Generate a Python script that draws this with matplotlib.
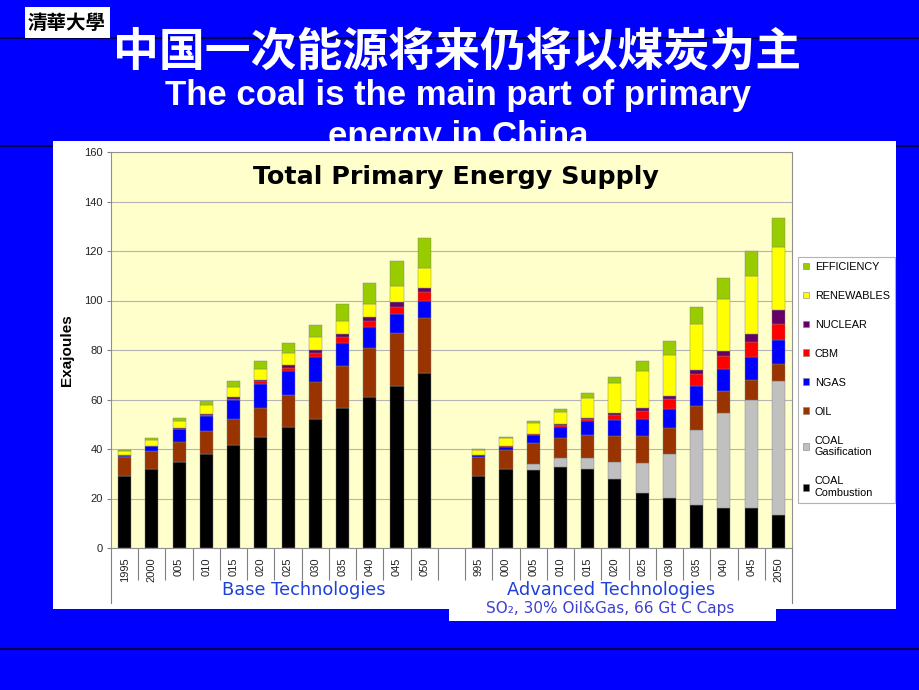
import numpy as np
import matplotlib
matplotlib.use('Agg')
import matplotlib.pyplot as plt
from matplotlib.patches import Rectangle, Patch
from matplotlib.lines import Line2D

# tick labels as they show on the slide (first digit cut off)
base_labels = ['1995', '2000', '005', '010', '015', '020', '025', '030', '035', '040', '045', '050']
adv_labels = ['995', '000', '005', '010', '015', '020', '025', '030', '035', '040', '045', '2050']

# Base Technologies (Exajoules)
coal_comb_base = [29.2, 31.9, 34.9, 38.0, 41.5, 44.9, 48.9, 52.3, 56.6, 61.0, 65.5, 70.7]
coal_gas_base = [0.0, 0.0, 0.0, 0.0, 0.0, 0.0, 0.0, 0.0, 0.0, 0.0, 0.0, 0.0]
oil_base = [7.4, 7.1, 8.0, 9.3, 10.8, 11.8, 13.1, 14.8, 17.1, 20.0, 21.3, 22.3]
ngas_base = [0.7, 2.1, 5.1, 6.2, 7.4, 9.6, 9.4, 9.9, 9.0, 8.1, 7.6, 6.9]
cbm_base = [0.1, 0.2, 0.2, 0.3, 0.5, 1.0, 1.4, 1.8, 2.4, 2.7, 3.0, 3.5]
nuclear_base = [0.0, 0.0, 0.1, 0.2, 0.8, 0.7, 1.0, 1.2, 1.5, 1.5, 1.8, 1.7]
renew_base = [1.8, 2.5, 3.2, 3.9, 4.2, 4.3, 4.8, 5.1, 5.2, 5.4, 6.7, 8.2]
eff_base = [0.5, 0.7, 0.9, 1.5, 2.1, 3.1, 4.1, 5.2, 6.6, 8.2, 10.0, 12.0]

# Advanced Technologies (Exajoules)
coal_comb_adv = [29.2, 31.9, 31.6, 32.9, 31.9, 27.8, 22.4, 20.2, 17.3, 16.0, 16.0, 13.2]
coal_gas_adv = [0.0, 0.0, 2.3, 3.4, 4.4, 7.1, 11.9, 17.8, 30.5, 38.7, 43.8, 54.3]
oil_adv = [7.4, 7.5, 8.6, 8.3, 9.3, 10.5, 11.1, 10.5, 9.7, 8.7, 8.1, 6.7]
ngas_adv = [0.8, 1.6, 3.3, 4.3, 5.6, 6.3, 6.9, 7.8, 8.1, 8.8, 9.1, 9.8]
cbm_adv = [0.0, 0.4, 0.4, 0.7, 1.0, 1.9, 3.1, 4.0, 4.8, 5.5, 6.3, 6.7]
nuclear_adv = [0.0, 0.0, 0.0, 0.4, 0.5, 0.8, 1.1, 1.1, 1.5, 2.0, 3.1, 5.4]
renew_adv = [2.3, 3.0, 4.2, 5.1, 7.8, 12.1, 15.1, 16.7, 18.6, 21.1, 23.5, 25.5]
eff_adv = [0.2, 0.4, 0.8, 1.2, 2.3, 2.7, 3.9, 5.5, 6.7, 8.1, 9.9, 11.9]

series_names = ['COAL\nCombustion', 'COAL\nGasification', 'OIL', 'NGAS', 'CBM',
                'NUCLEAR', 'RENEWABLES', 'EFFICIENCY']
series_colors = ['#000000', '#C0C0C0', '#993300', '#0000FF', '#FF0000',
                 '#660066', '#FFFF00', '#99CC00']
base_series = [coal_comb_base, coal_gas_base, oil_base, ngas_base, cbm_base,
               nuclear_base, renew_base, eff_base]
adv_series = [coal_comb_adv, coal_gas_adv, oil_adv, ngas_adv, cbm_adv,
              nuclear_adv, renew_adv, eff_adv]

plt.rcParams['font.family'] = ['Liberation Sans', 'DejaVu Sans']

W, H = 920, 690
fig = plt.figure(figsize=(9.2, 6.9), dpi=100, facecolor='#0000FF')


def fx(px):
    return px / W


def fy(py):
    return 1 - py / H


# slide decoration
for yy in [38, 146, 649]:
    fig.add_artist(Line2D([0, 1], [fy(yy), fy(yy)], transform=fig.transFigure,
                          color='#000050', lw=1.5, zorder=0.5))
fig.add_artist(Rectangle((fx(25), fy(38)), fx(85), 31 / H, transform=fig.transFigure,
                         facecolor='white', edgecolor='none', zorder=0.6))
fig.text(fx(67), fy(23), '清華大學', family=['Noto Sans CJK TC', 'DejaVu Sans'],
         fontsize=14, weight='bold', style='italic', color='black',
         ha='center', va='center', zorder=0.7)

fig.text(fx(457), fy(53), '中国一次能源将来仍将以煤炭为主',
         family=['Noto Sans CJK SC', 'DejaVu Sans'], fontsize=33, weight='bold',
         color='white', ha='center', va='center', zorder=1)
fig.text(fx(458), fy(105), 'The coal is the main part of primary',
         fontsize=25, weight='bold', color='white', ha='center', va='baseline', zorder=1)
fig.text(fx(458), fy(146), 'energy in China',
         fontsize=25, weight='bold', color='white', ha='center', va='baseline', zorder=1)

# white chart panel
fig.add_artist(Rectangle((fx(53), fy(609)), fx(896 - 53), (609 - 141) / H,
                         transform=fig.transFigure, facecolor='white',
                         edgecolor='none', zorder=2))
fig.add_artist(Rectangle((fx(449), fy(621)), fx(776 - 449), (621 - 600) / H,
                         transform=fig.transFigure, facecolor='white',
                         edgecolor='none', zorder=2))

# chart
ax = fig.add_axes([fx(111), fy(548), fx(792 - 111), (548 - 152) / H])
ax.set_zorder(3)
ax.set_facecolor('#FFFFCC')

n = len(base_labels)
x_base = np.arange(n)
x_adv = np.arange(n) + n + 1

for xs, group in [(x_base, base_series), (x_adv, adv_series)]:
    bottom = np.zeros(n)
    for vals, col in zip(group, series_colors):
        ax.bar(xs, vals, width=0.48, bottom=bottom, color=col,
               edgecolor='#808080', linewidth=0.3, zorder=2)
        bottom += np.array(vals)

ax.set_xlim(-0.5, 2 * n + 0.5)
ax.set_ylim(0, 160)
ax.set_yticks(np.arange(0, 161, 20))
ax.yaxis.grid(True, color='#B4B4B4', lw=0.8, zorder=1)
ax.set_axisbelow(True)
ax.tick_params(axis='y', length=3, color='#808080', labelsize=8, labelcolor='#222222', pad=3)

# category boundaries as long ticks, labels on the minor ticks
ax.set_xticks(np.arange(0.5, 2 * n, 1.0))
ax.set_xticklabels([])
ax.tick_params(axis='x', which='major', length=23, color='#808080', width=0.8, direction='out')
ax.set_xticks(np.concatenate([x_base, x_adv]), minor=True)
ax.set_xticklabels(base_labels + adv_labels, minor=True, rotation=90, fontsize=8,
                   va='top', ha='center', color='#222222')
ax.tick_params(axis='x', which='minor', length=0, pad=7)
for xe in [-0.5, 2 * n + 0.5]:
    ax.axvline(xe, ymin=-55 / 396, ymax=0, clip_on=False, color='#808080', lw=0.8)

for sp in ax.spines.values():
    sp.set_color('#909090')
    sp.set_linewidth(0.8)

ax.set_ylabel('Exajoules', fontsize=11, weight='bold', labelpad=7)
ax.text(0.507, 0.919, 'Total Primary Energy Supply', transform=ax.transAxes,
        family='DejaVu Sans', fontsize=18.3, weight='bold', ha='center', va='baseline', zorder=5)

handles = [Patch(facecolor=c, edgecolor='#808080', linewidth=0.4, label=l)
           for c, l in zip(series_colors, series_names)][::-1]
leg = ax.legend(handles=handles, loc='upper left',
                bbox_to_anchor=(fx(798), fy(257)), bbox_transform=fig.transFigure,
                fontsize=7.8, frameon=True, fancybox=False, borderaxespad=0,
                handlelength=0.6, handleheight=0.6, handletextpad=0.5,
                labelspacing=1.75, borderpad=0.45)
leg.get_frame().set_edgecolor('#A0A0A0')
leg.get_frame().set_linewidth(0.8)

# group labels
fig.text(fx(304), fy(590), 'Base Technologies', family='DejaVu Sans', fontsize=12.8,
         color='#2040D8', ha='center', va='center', zorder=4)
fig.text(fx(611), fy(590), 'Advanced Technologies', family='DejaVu Sans', fontsize=12.8,
         color='#2040D8', ha='center', va='center', zorder=4)
fig.text(fx(610), fy(608), 'SO₂, 30% Oil&Gas, 66 Gt C Caps', family='DejaVu Sans',
         fontsize=11, color='#4040D0', ha='center', va='center', zorder=4)

fig.savefig('out.png', dpi=100, facecolor=fig.get_facecolor())
